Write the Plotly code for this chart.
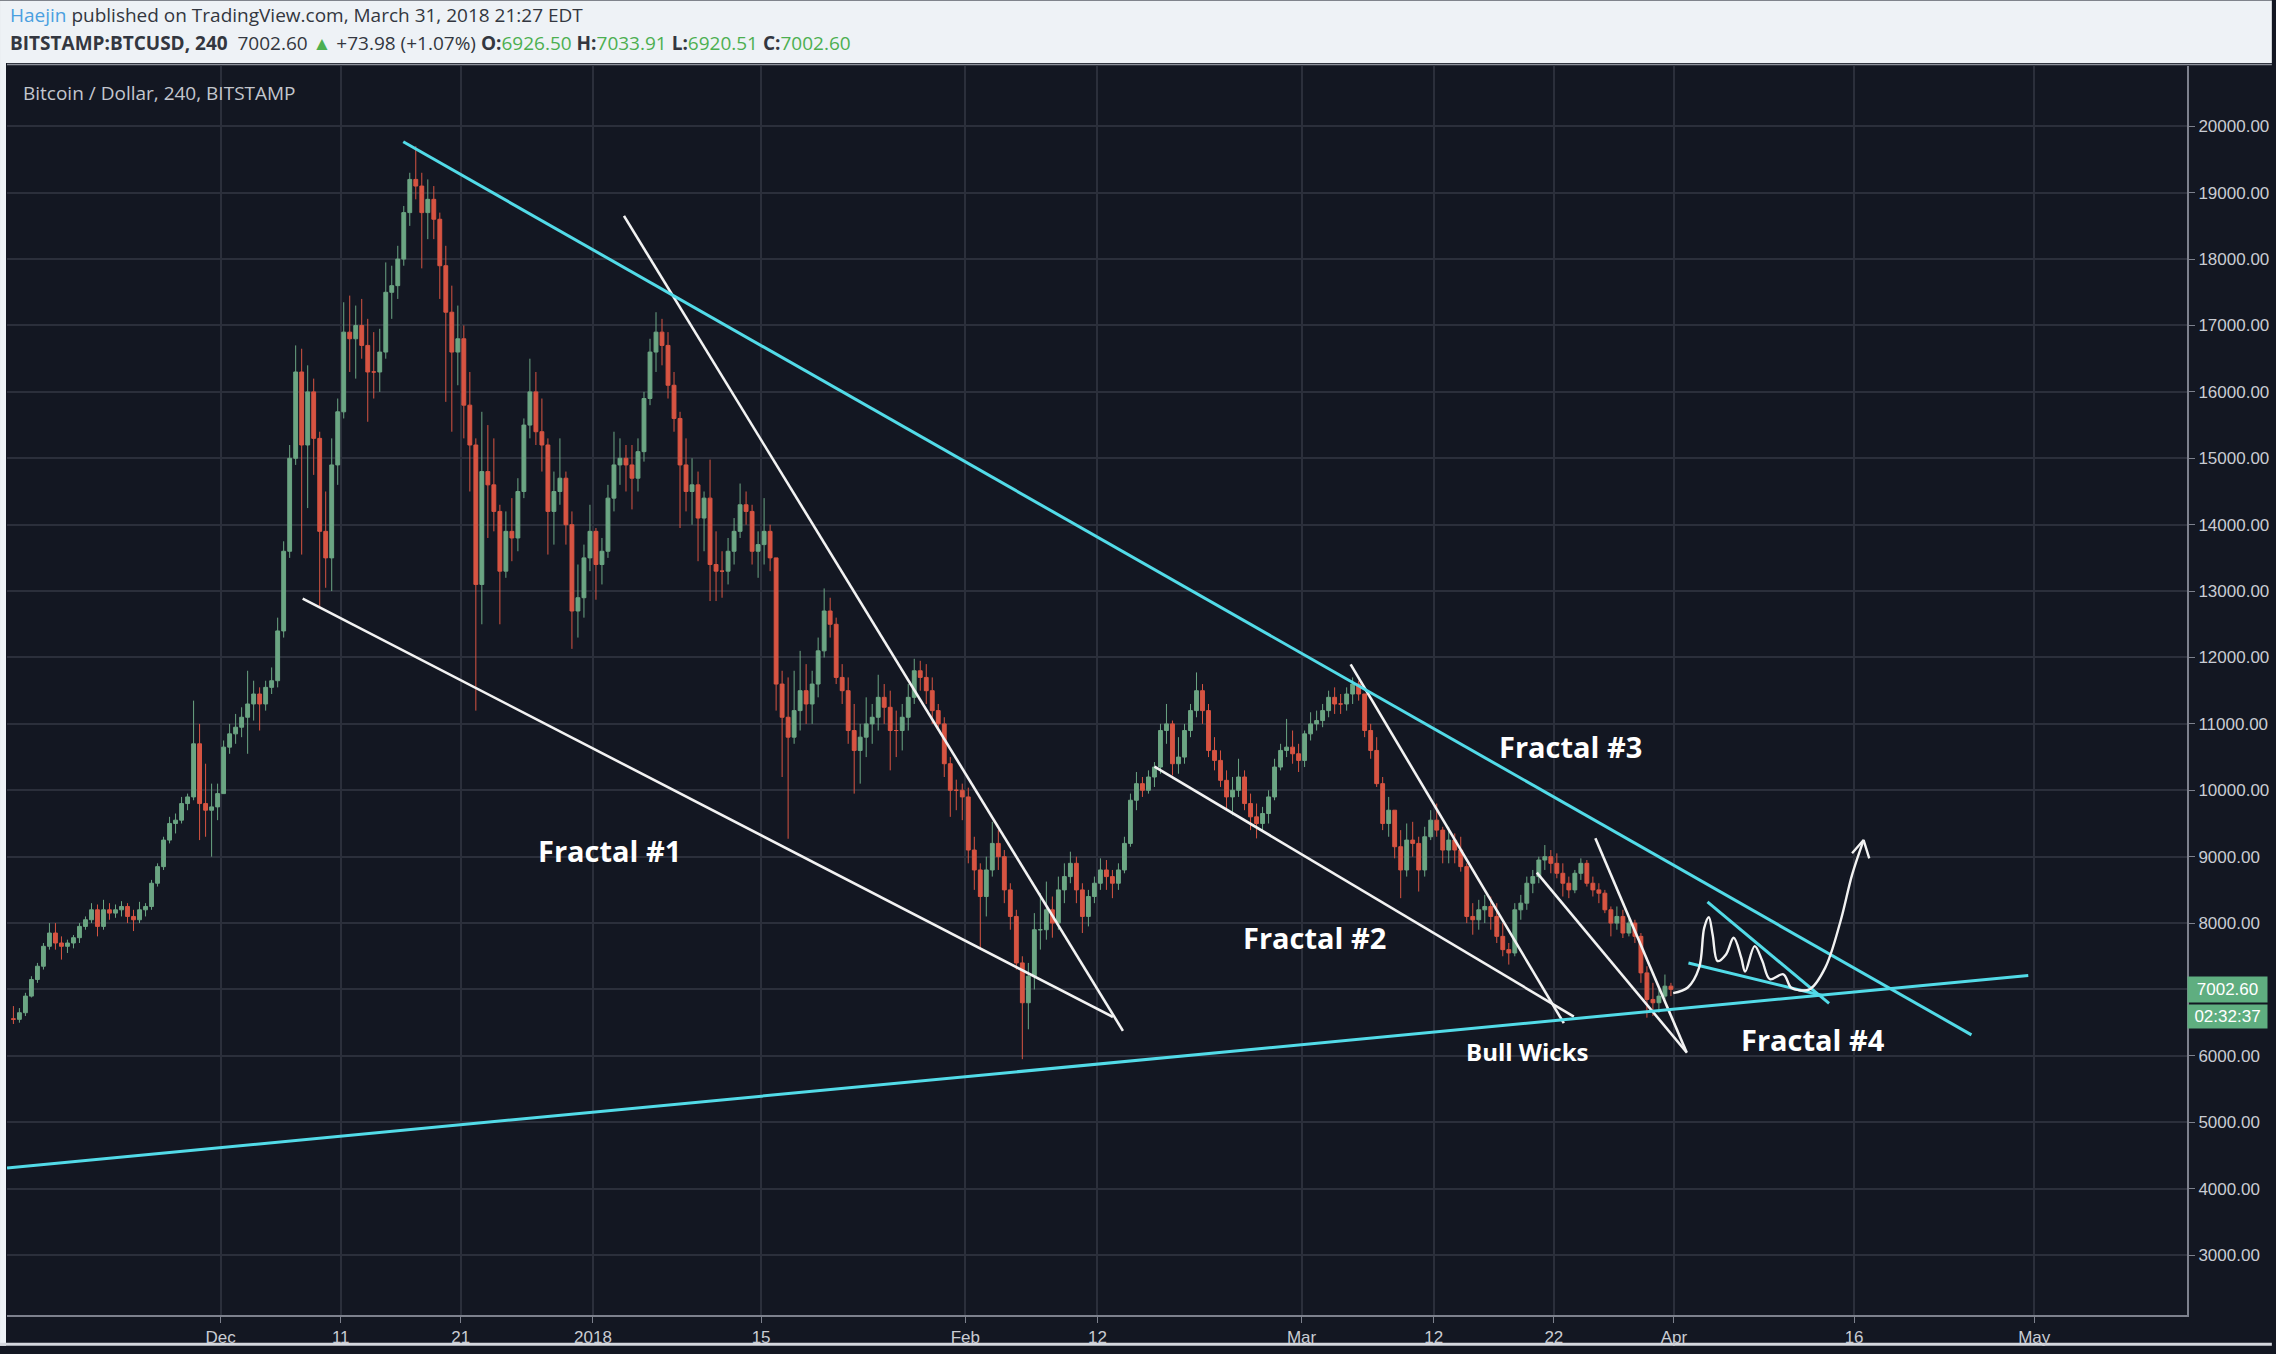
import pandas as pd
import plotly.graph_objects as go

# ---------------- data ----------------
# 12-hour candles BITSTAMP BTC/USD, (high, low, close); open = previous close
candle_start = "2017-11-13 12:00"
first_open = 6560
nov_hlc = [
    (6750, 6480, 6550), (6720, 6500, 6650), (6950, 6600, 6900), (7200, 6880, 7150), (7400, 7100, 7350),
    (7700, 7300, 7650), (8000, 7600, 7850), (8000, 7600, 7700), (7800, 7450, 7650), (7750, 7550, 7700),
    (7820, 7620, 7780), (8000, 7700, 7950), (8100, 7900, 8050), (8300, 8000, 8200), (8280, 7800, 7950),
    (8350, 7900, 8200), (8300, 8050, 8150), (8280, 8080, 8200), (8330, 8100, 8250), (8300, 8000, 8100),
    (8200, 7880, 8050), (8320, 8000, 8200), (8300, 8100, 8250), (8650, 8200, 8600), (8900, 8550, 8850),
    (9300, 8800, 9250), (9600, 9200, 9500), (9650, 9350, 9550), (9900, 9500, 9800), (9950, 9700, 9900),
    (11350, 9850, 10700), (11000, 9250, 9800), (10400, 9300, 9700), (10100, 9000, 9750), (10100, 9550, 9950),
]
dec_hlc = [
    (10750, 9950, 10650), (11000, 10550, 10850), (11150, 10700, 10950), (11250, 10800, 11100),
    (11800, 10550, 11300), (11650, 11050, 11450), (11550, 10900, 11300), (11650, 11200, 11550),
    (11850, 11450, 11650), (12600, 11550, 12400), (13750, 12300, 13600), (15200, 13500, 15000),
    (16700, 14900, 16300), (16650, 13550, 15200), (16400, 14250, 16000), (16200, 14750, 15300),
    (15400, 12750, 13900), (14500, 13050, 13500), (15300, 13000, 14900), (15900, 14600, 15700),
    (17350, 15600, 16900), (17450, 16300, 16800), (17300, 16200, 17000), (17400, 16500, 16700),
    (17100, 15550, 16300), (16900, 15900, 16300), (16950, 16000, 16600), (17950, 16500, 17500),
    (17900, 17100, 17600), (18200, 17400, 18000), (18800, 17900, 18700), (19300, 18500, 19200),
    (19700, 18900, 19100), (19300, 17860, 18700), (19200, 18300, 18900), (19100, 18300, 18600),
    (18700, 17400, 17900), (18200, 15850, 17200), (17600, 15400, 16600), (17300, 16100, 16800),
    (17000, 15300, 15800), (16300, 14500, 15200), (15300, 11200, 13100), (15700, 12500, 14800),
    (15500, 13800, 14600), (15300, 13900, 14200), (14300, 12500, 13300), (14200, 13200, 13900),
    (14400, 13450, 13800), (14700, 13600, 14500), (15600, 14400, 15500), (16500, 15300, 16000),
    (16300, 15200, 15400), (15900, 14800, 15200), (15300, 13550, 14200), (14800, 13700, 14500),
    (15300, 14300, 14700), (14800, 13700, 14000), (14200, 12130, 12700), (13400, 12300, 12900),
    (13700, 12600, 13500), (14300, 13300, 13900),
]
jan_hlc = [
    (13950, 12870, 13400), (13800, 13100, 13600), (14600, 13500, 14400), (15400, 14200, 14900),
    (15300, 14600, 15000), (15200, 14500, 14900), (15200, 14230, 14700), (15300, 14500, 15100),
    (16000, 14950, 15900), (16800, 15800, 16600), (17200, 16300, 16900), (17100, 16400, 16700),
    (16900, 15900, 16100), (16300, 15400, 15600), (15700, 13950, 14900), (15300, 14200, 14500),
    (15000, 14000, 14600), (14800, 13450, 14100), (14500, 13600, 14400), (14980, 12850, 13400),
    (13900, 12850, 13300), (13600, 12900, 13300), (13800, 13100, 13600), (14100, 13400, 13900),
    (14620, 13800, 14300), (14500, 14000, 14200), (14300, 13400, 13600), (13900, 13200, 13700),
    (14400, 13400, 13900), (14000, 13300, 13500), (13500, 11200, 11600), (11800, 10200, 11100),
    (11700, 9270, 10800), (11800, 10700, 11200), (12100, 10900, 11500), (11900, 11000, 11300),
    (11800, 11000, 11600), (12300, 11400, 12100), (13040, 12000, 12700), (12900, 12300, 12500),
    (12600, 11600, 11700), (11900, 11300, 11500), (11700, 10700, 10900), (11300, 9950, 10600),
    (11000, 10100, 10800), (11400, 10500, 11000), (11300, 10700, 11100), (11740, 10900, 11400),
    (11600, 11000, 11250), (11500, 10300, 10900), (11200, 10500, 10900), (11300, 10600, 11100),
    (11600, 10900, 11400), (11980, 11300, 11800), (11950, 11500, 11700), (11900, 11300, 11500),
    (11700, 11000, 11200), (11300, 10900, 11000), (11100, 10200, 10400), (10500, 9600, 10000),
    (10160, 9700, 10000), (10100, 9550, 9900),
]
feb_hlc = [
    (10040, 8900, 9100), (9300, 8500, 8800), (8900, 7600, 8400), (9000, 8100, 8800),
    (9525, 8700, 9200), (9400, 8800, 9000), (9100, 8300, 8500), (8600, 7900, 8100),
    (8200, 7300, 7400), (7500, 5950, 6800), (7400, 6400, 7200), (8150, 7000, 7900),
    (8450, 7600, 7900), (8625, 7750, 8200), (8400, 7780, 8000), (8700, 7900, 8500),
    (8900, 8300, 8700), (9075, 8600, 8900), (9000, 8300, 8500), (8600, 7850, 8100),
    (8500, 7950, 8400), (8700, 8300, 8600), (8975, 8500, 8800), (8950, 8500, 8700),
    (8800, 8375, 8600), (8900, 8500, 8800), (9300, 8750, 9200), (9950, 9150, 9850),
    (10275, 9700, 10100), (10200, 9900, 10000), (10300, 9950, 10200), (10425, 10050, 10350),
    (11000, 10250, 10900), (11300, 10700, 11000), (11050, 10225, 10400), (10800, 10250, 10500),
    (11000, 10400, 10900), (11300, 10800, 11200), (11775, 11100, 11500), (11600, 11000, 11200),
    (11300, 10500, 10600), (10800, 10300, 10450), (10600, 10050, 10150), (10300, 9700, 9900),
    (10200, 9625, 10000), (10475, 9900, 10200), (10300, 9700, 9800), (9950, 9400, 9600),
    (9800, 9275, 9500), (9750, 9400, 9650), (10000, 9500, 9900), (10475, 9850, 10350),
    (10700, 10300, 10600), (11075, 10500, 10650), (10900, 10400, 10550), (10700, 10275, 10450),
]
mar_hlc = [
    (10900, 10350, 10850), (11175, 10750, 11000), (11200, 10900, 11050), (11300, 10950, 11200),
    (11500, 11100, 11400), (11550, 11150, 11300), (11450, 11150, 11300), (11550, 11200, 11450),
    (11700, 11300, 11600), (11650, 11350, 11450), (11450, 10800, 10900), (11000, 10475, 10600),
    (10800, 10050, 10100), (10200, 9400, 9500), (9900, 9300, 9700), (9700, 8975, 9150),
    (9400, 8375, 8800), (9500, 8700, 9250), (9525, 9000, 9200), (9300, 8475, 8800),
    (9450, 8700, 9300), (9700, 9250, 9550), (9800, 9300, 9400), (9450, 8900, 9100),
    (9450, 8900, 9250), (9350, 8900, 9100), (9300, 8775, 8850), (8900, 8000, 8100),
    (8300, 7825, 8050), (8350, 7900, 8200), (8425, 8000, 8250), (8400, 7900, 8100),
    (8300, 7700, 7800), (8000, 7500, 7600), (7700, 7375, 7550), (8300, 7500, 8200),
    (8425, 8050, 8300), (8700, 8200, 8600), (8800, 8450, 8700), (9000, 8600, 8950),
    (9175, 8800, 9000), (9100, 8750, 8900), (9050, 8675, 8750), (8900, 8400, 8600),
    (8700, 8375, 8500), (8800, 8450, 8750), (8975, 8650, 8900), (8950, 8550, 8600),
    (8700, 8400, 8500), (8600, 8300, 8450), (8500, 8150, 8200), (8250, 7800, 8000),
    (8250, 7900, 8100), (8200, 7775, 7850), (8100, 7800, 8000), (8050, 7700, 7800),
    (7850, 7100, 7250), (7350, 6575, 6850), (7100, 6600, 6800), (7000, 6650, 6900),
    (7225, 6850, 7050), (7100, 6900, 7002.60),
]

# drawn trend lines: (start date, start price, end date, end price)
cyan_lines = [
    ("2017-12-16 05:00", 19767, "2018-04-25 18:30", 6317),
    ("2017-11-13 05:15", 4311, "2018-04-30 12:00", 7212),
    ("2018-04-03 19:00", 8318, "2018-04-13 22:00", 6791),
    ("2018-04-02 05:00", 7399, "2018-04-13 11:00", 6905),
]
white_lines = [
    ("2017-12-07 20:00", 12887, "2018-02-13 07:00", 6586),
    ("2018-01-03 14:00", 18650, "2018-02-14 03:00", 6377),
    ("2018-02-16 18:00", 10358, "2018-03-23 16:00", 6591),
    ("2018-03-05 02:00", 11895, "2018-03-22 20:00", 6492),
    ("2018-03-20 14:00", 8761, "2018-04-02 02:00", 6047),
    ("2018-03-25 11:00", 9276, "2018-04-02 01:00", 6058),
]
# hand-drawn projection curve of Fractal #4
scribble_dates = ["2018-03-31 22:30", "2018-04-02 03:40", "2018-04-03 02:20", "2018-04-03 12:30",
                  "2018-04-03 21:40", "2018-04-04 05:15", "2018-04-04 15:10", "2018-04-05 08:00",
                  "2018-04-05 23:20", "2018-04-06 14:25", "2018-04-06 22:20", "2018-04-07 17:20",
                  "2018-04-08 08:40", "2018-04-08 23:50", "2018-04-10 02:30", "2018-04-10 17:45",
                  "2018-04-11 08:50", "2018-04-12 07:50", "2018-04-13 14:25", "2018-04-14 20:50",
                  "2018-04-15 19:55", "2018-04-16 19:00"]
scribble_prices = [6945, 7030, 7329, 7928, 8087, 7828, 7428, 7528, 7778, 7479, 7270, 7653,
                   7428, 7155, 7229, 7030, 6990, 7005, 7329, 8027, 8726, 9250]
arrow_dates = ["2018-04-15 19:55", "2018-04-16 19:00", "2018-04-17 06:15"]
arrow_prices = [9051, 9250, 8976]

labels = ["Fractal #1", "Fractal #2", "Fractal #3", "Fractal #4", "Bull Wicks"]
label_dates = ["2018-01-02 10:00", "2018-03-02 01:00", "2018-03-23 09:00", "2018-04-12 13:00", "2018-03-19 20:00"]
label_prices = [9100, 7776, 10657, 6249, 6062]
label_sizes = [29, 29, 29, 29, 24]

x_tick_dates = ["2017-12-01", "2017-12-11", "2017-12-21", "2018-01-01", "2018-01-15", "2018-02-01",
                "2018-02-12", "2018-03-01", "2018-03-12", "2018-03-22", "2018-04-01", "2018-04-16", "2018-05-01"]
x_tick_text = ["Dec", "11", "21", "2018", "15", "Feb", "12", "Mar", "12", "22", "Apr", "16", "May"]

last_price = 7002.60
countdown = "02:32:37"

# ---------------- build ----------------
hlc = nov_hlc + dec_hlc + jan_hlc + feb_hlc + mar_hlc
highs = [r[0] for r in hlc]
lows = [r[1] for r in hlc]
closes = [r[2] for r in hlc]
opens = [first_open] + closes[:-1]
times = pd.date_range(candle_start, periods=len(hlc), freq="12h") + pd.Timedelta(hours=6)

W, H = 2276, 1354
L, R, T, B = 7, 85, 66, 31
PW, PH = W - L - R, H - T - B


def px(xp):
    return (xp - L) / PW


def py(yp):
    return (H - B - yp) / PH


BG = "#131722"
GRID = "#2b2f3b"
AXIS = "#7d818d"
TXT = "#c9ccd3"
UP = "#6ba583"
DOWN = "#d75442"
CYAN = "#52dbe8"
WHITE = "#f2f2f2"

fig = go.Figure()
fig.add_trace(go.Candlestick(
    x=times, open=opens, high=highs, low=lows, close=closes,
    increasing=dict(line=dict(color=UP, width=1), fillcolor=UP),
    decreasing=dict(line=dict(color=DOWN, width=1), fillcolor=DOWN),
    whiskerwidth=0, hoverinfo="skip", showlegend=False,
))

for (d0, p0, d1, p1) in white_lines:
    fig.add_trace(go.Scatter(x=[d0, d1], y=[p0, p1], mode="lines",
                             line=dict(color=WHITE, width=2.6), hoverinfo="skip", showlegend=False))
for (d0, p0, d1, p1) in cyan_lines:
    fig.add_trace(go.Scatter(x=[d0, d1], y=[p0, p1], mode="lines",
                             line=dict(color=CYAN, width=3), hoverinfo="skip", showlegend=False))
fig.add_trace(go.Scatter(x=scribble_dates, y=scribble_prices, mode="lines",
                         line=dict(color=WHITE, width=2.4, shape="spline", smoothing=1.0),
                         hoverinfo="skip", showlegend=False))
fig.add_trace(go.Scatter(x=arrow_dates, y=arrow_prices, mode="lines",
                         line=dict(color=WHITE, width=2.4), hoverinfo="skip", showlegend=False))

annotations = []
for t, d, p, s in zip(labels, label_dates, label_prices, label_sizes):
    annotations.append(dict(x=d, y=p, xref="x", yref="y", text="<b>%s</b>" % t, showarrow=False,
                            font=dict(family="Open Sans", size=s, color="#ffffff"),
                            xanchor="center", yanchor="middle"))

GREEN = "#4caf50"
header1 = ("<span style='color:#4a9fe0'>Haejin</span> published on TradingView.com, "
           "March 31, 2018 21:27 EDT")
header2 = ("<b>BITSTAMP:BTCUSD, 240</b>  7002.60 <span style='color:%s'>▲</span> +73.98 (+1.07%%) "
           "<b>O:</b><span style='color:%s'>6926.50</span> <b>H:</b><span style='color:%s'>7033.91</span> "
           "<b>L:</b><span style='color:%s'>6920.51</span> <b>C:</b><span style='color:%s'>7002.60</span>"
           % (GREEN, GREEN, GREEN, GREEN, GREEN))
annotations.append(dict(x=px(8), y=py(15), xref="paper", yref="paper", text=header1, showarrow=False,
                        xanchor="left", yanchor="middle",
                        font=dict(family="Open Sans", size=19, color="#333740")))
annotations.append(dict(x=px(8), y=py(43), xref="paper", yref="paper", text=header2, showarrow=False,
                        xanchor="left", yanchor="middle",
                        font=dict(family="Open Sans", size=19, color="#333740")))
annotations.append(dict(x=px(21), y=py(93), xref="paper", yref="paper",
                        text="Bitcoin / Dollar, 240, BITSTAMP", showarrow=False,
                        xanchor="left", yanchor="middle",
                        font=dict(family="Open Sans", size=19, color="#c3c6ce")))
# price tag + countdown on price scale
annotations.append(dict(x=1.0, y=last_price, xref="paper", yref="y", text="%.2f" % last_price,
                        showarrow=False, xanchor="left", yanchor="middle", bgcolor="#5fae80",
                        width=75, height=21, borderpad=2, align="center",
                        font=dict(family="Liberation Sans", size=17, color="#ffffff")))
annotations.append(dict(x=1.0, y=last_price, xref="paper", yref="y", text=countdown,
                        showarrow=False, xanchor="left", yanchor="middle", bgcolor="#5fae80",
                        width=75, height=19, borderpad=2, align="center", yshift=-27,
                        font=dict(family="Liberation Sans", size=17, color="#ffffff")))

shapes = [
    # light page header and frame
    dict(type="rect", xref="paper", yref="paper", x0=px(0), x1=px(W), y0=py(63), y1=py(0),
         fillcolor="#eef2f6", line=dict(width=0), layer="below"),
    dict(type="line", xref="paper", yref="paper", x0=px(7), x1=px(W), y0=py(64.5), y1=py(64.5),
         line=dict(color="#8e929c", width=1.5)),
    dict(type="rect", xref="paper", yref="paper", x0=px(0), x1=px(6), y0=py(H), y1=py(63),
         fillcolor="#eef2f6", line=dict(width=0), layer="below"),
    dict(type="rect", xref="paper", yref="paper", x0=px(0), x1=px(W), y0=py(H), y1=py(1351),
         fillcolor="#d5d8de", line=dict(width=0), layer="below"),
]

fig.update_layout(
    width=W, height=H, autosize=False,
    margin=dict(l=L, r=R, t=T, b=B, pad=0),
    paper_bgcolor=BG, plot_bgcolor=BG,
    showlegend=False, hovermode=False,
    boxgap=0.2, boxgroupgap=0.2,
    annotations=annotations, shapes=shapes,
    xaxis=dict(
        type="date", range=["2017-11-13 05:11", "2018-05-13 17:11"],
        tickvals=x_tick_dates, ticktext=x_tick_text,
        showgrid=True, gridcolor=GRID, gridwidth=1.5,
        showline=True, linecolor=AXIS, linewidth=2,
        ticks="outside", ticklen=6, tickcolor=AXIS,
        tickfont=dict(family="Liberation Sans", size=17, color=TXT),
        zeroline=False, rangeslider=dict(visible=False), fixedrange=True,
    ),
    yaxis=dict(
        side="right", range=[2097.6, 20908], tick0=0, dtick=1000, tickformat=".2f",
        showgrid=True, gridcolor=GRID, gridwidth=1.5,
        showline=True, linecolor=AXIS, linewidth=2,
        ticks="outside", ticklen=6, tickcolor=AXIS,
        tickfont=dict(family="Liberation Sans", size=17, color=TXT),
        zeroline=False, fixedrange=True,
    ),
)

fig.write_html("out.html", config={"displayModeBar": False})
